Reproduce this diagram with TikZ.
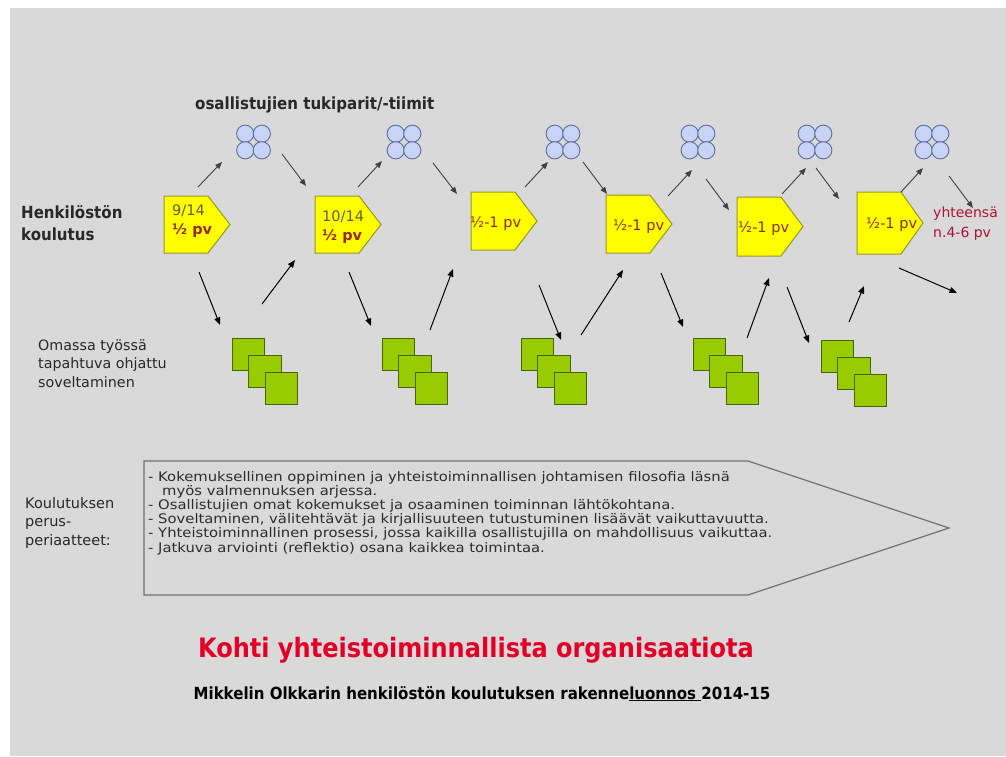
\documentclass[tikz,border=0pt]{standalone}
\usepackage{fontspec}
\setmainfont{DejaVu Sans}
\newfontfamily\widefont[FakeStretch=1.12]{DejaVu Sans}
\newfontfamily\narrowfont[FakeStretch=0.9]{DejaVu Sans}
\usetikzlibrary{arrows.meta}
\definecolor{bg}{RGB}{217,217,217}
\definecolor{yellowfill}{RGB}{255,255,0}
\definecolor{pentborder}{RGB}{150,150,40}
\definecolor{teamfill}{RGB}{201,210,247}
\definecolor{teamborder}{RGB}{93,108,156}
\definecolor{sqfill}{RGB}{153,204,0}
\definecolor{sqborder}{RGB}{74,100,10}
\definecolor{uarrc}{RGB}{64,64,64}
\definecolor{textgray}{RGB}{40,40,40}
\definecolor{listgray}{RGB}{45,45,45}
\definecolor{dategray}{RGB}{95,95,70}
\definecolor{pvred}{RGB}{150,40,20}
\definecolor{sumred}{RGB}{176,16,58}
\definecolor{titlered}{RGB}{226,0,38}
\definecolor{bigborder}{RGB}{112,112,112}
\tikzset{
  pentst/.style={fill=yellowfill, draw=pentborder, line width=1pt},
  circst/.style={fill=teamfill, draw=teamborder, line width=0.9pt},
  sqst/.style={fill=sqfill, draw=sqborder, line width=0.9pt},
  uarr/.style={draw=uarrc, line width=0.9pt, -{Triangle[length=7pt,width=5.5pt]}},
  larr/.style={draw=black, line width=1pt, -{Triangle[length=7.5pt,width=6pt]}},
  lbl/.style={inner sep=0pt, anchor=base west, align=left},
  bigarr/.style={fill=bg, draw=bigborder, line width=1.2pt},
}
\begin{document}
\begin{tikzpicture}[x=1pt,y=-1pt]
\useasboundingbox (0,0) rectangle (1006,756);
\fill[white] (0,0) rectangle (1006,756);
\fill[bg] (10,8) rectangle (1006,756);

% training pentagons
\foreach \n/\L/\T/\B in {1/164/196/253, 2/315/196/253, 3/471/192/250, 4/606/195/253, 5/737/197/256, 6/857/192/254}{
  \draw[pentst] (\L,\T) -- (\L+44,\T) -- (\L+66,{(\T+\B)/2}) -- (\L+44,\B) -- (\L,\B) -- cycle;
  \coordinate (pent\n) at (\L+33,{(\T+\B)/2});
}

% support teams (four circles)
\foreach \n/\cx in {1/253.5, 2/404, 3/563, 4/698, 5/815, 6/932}{
  \foreach \dx/\dy in {-8.3/-8.3, 8.3/-8.3, -8.3/8.3, 8.3/8.3}
    \draw[circst] (\cx+\dx,142+\dy) circle[radius=8.6];
  \coordinate (team\n) at (\cx,142);
}

% applied work (three squares)
\foreach \n/\x/\y in {1/232/338, 2/382/338, 3/521/338, 4/693/338, 5/821/340}{
  \foreach \k in {0,1,2}
    \draw[sqst] (\x+16.5*\k,\y+17*\k) rectangle ++(32.5,32.5);
  \coordinate (work\n) at (\x+33,\y+33);
}

% upper arrows
\foreach \n/\a/\b/\c/\d in {1/198/187/222/162, 2/282/154/306/186, 3/358/187/382/161, 4/433/163/457/194,
  5/525/187/548/162, 6/583/162/607/194, 7/668/196/692/170, 8/706/179/729/210,
  9/782/194/806/168, 10/816/168/839/199, 11/901/192/923/168, 12/949/176/973/208}{
  \coordinate (us\n) at (\a,\b);
  \coordinate (ue\n) at (\c,\d);
  \draw[uarr] (us\n) -- (ue\n);
}
% lower arrows
\foreach \n/\a/\b/\c/\d in {1/199/272/220/325, 2/262/304/295/260, 3/349/272/371/326, 4/430/330/453/269,
  5/539/285/561/340, 6/581/335/623/270, 7/661/273/683/327, 8/747/338/769/278,
  9/787/287/809/343, 10/849/322/864/286, 11/899/268/957/293}{
  \coordinate (ls\n) at (\a,\b);
  \coordinate (le\n) at (\c,\d);
  \draw[larr] (ls\n) -- (le\n);
}

% labels (anchor = baseline of the last line)
\node[lbl, text=textgray, font=\narrowfont\bfseries\fontsize{16.7}{18}\selectfont] (teams) at (195,109) {osallistujien tukiparit/-tiimit};
\node[lbl, text=textgray, font=\narrowfont\bfseries\fontsize{16.7}{22}\selectfont] (henk) at (21,240) {Henkilöstön\\koulutus};
\node[lbl, text=textgray, font=\fontsize{14.3}{18.5}\selectfont] (omassa) at (38,387) {Omassa työssä\\tapahtuva ohjattu\\soveltaminen};
\node[lbl, text=textgray, font=\fontsize{14.5}{18.5}\selectfont] (perus) at (25,545) {Koulutuksen\\perus-\\periaatteet:};

\node[lbl, font=\fontsize{14.5}{19}\selectfont] (d1) at (172,234) {\textcolor{dategray}{9/14}\\\textcolor{pvred}{\bfseries ½ pv}};
\node[lbl, font=\fontsize{14.5}{19}\selectfont] (d2) at (322,240) {\textcolor{dategray}{10/14}\\\textcolor{pvred}{\bfseries ½ pv}};
\foreach \n/\x/\y in {3/470/227, 4/613/230, 5/738/232, 6/866/228}
  \node[lbl, text=pvred, font=\fontsize{14.5}{18}\selectfont] (d\n) at (\x,\y) {½-1 pv};
\node[lbl, text=sumred, font=\fontsize{14}{20}\selectfont] (sum) at (933,237) {yhteensä\\n.4-6 pv};

% principles arrow
\draw[bigarr] (144,461) -- (748,461) -- (949,528) -- (748,595) -- (144,595) -- cycle;
\coordinate (bigtip) at (949,528);
\node[lbl, text=listgray, font=\widefont\fontsize{13.2}{14.1}\selectfont] (list) at (148,552) {%
- Kokemuksellinen oppiminen ja yhteistoiminnallisen johtamisen filosofia läsnä\\
\hspace*{14pt}myös valmennuksen arjessa.\\
- Osallistujien omat kokemukset ja osaaminen toiminnan lähtökohtana.\\
- Soveltaminen, välitehtävät ja kirjallisuuteen tutustuminen lisäävät vaikuttavuutta.\\
- Yhteistoiminnallinen prosessi, jossa kaikilla osallistujilla on mahdollisuus vaikuttaa.\\
- Jatkuva arviointi (reflektio) osana kaikkea toimintaa.};

% titles
\node[inner sep=0pt, anchor=base, text=titlered, font=\narrowfont\bfseries\fontsize{26.7}{30}\selectfont] (title) at (476,657) {Kohti yhteistoiminnallista organisaatiota};
\node[inner sep=0pt, anchor=base, text=black, font=\narrowfont\bfseries\fontsize{16.7}{19}\selectfont] (sub) at (482,699) {Mikkelin Olkkarin henkilöstön koulutuksen rakenne\underline{luonnos }2014-15};
\end{tikzpicture}
\end{document}
